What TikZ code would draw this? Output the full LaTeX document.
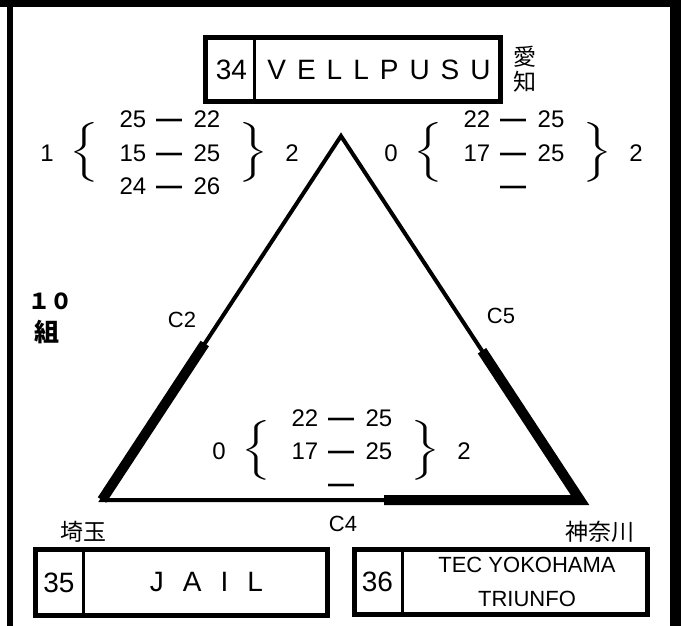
\documentclass[tikz,border=0pt]{standalone}
\usepackage{amsmath}
\usepackage{graphicx}
\usepackage{fontspec}
\setmainfont{Liberation Sans}
\newfontfamily\jpfont{Noto Sans CJK JP}
\usepackage{tikz}
\usetikzlibrary{calc}

\begin{document}
\begin{tikzpicture}[x=1pt, y=-1pt,
    side/.style={line width=4pt},
    won/.style={line width=10pt},
    teambox/.style={draw, line width=5pt, minimum width=#1, minimum height=66, inner sep=0pt},
    divider/.style={line width=3pt},
    num/.style={font=\fontsize{28}{30}\selectfont, inner sep=0pt},
    score/.style={font=\fontsize{24}{26}\selectfont, anchor=base, inner sep=0pt},
    dashmark/.style={font=\fontsize{26}{28}\selectfont\bfseries, anchor=base, inner sep=0pt},
    brc/.style={font=\fontsize{28}{30}\selectfont, inner sep=0pt},
    court/.style={font=\fontsize{22}{24}\selectfont, inner sep=0pt},
    pref/.style={font=\jpfont\fontsize{23}{25}\selectfont, inner sep=0pt, align=center},
    kumi/.style={inner sep=0pt}]

\useasboundingbox (0,0) rectangle (681,626);
\fill (0,0) rectangle (681,7);
\fill (7,0) rectangle (13,626);
\fill (670,0) rectangle (681,626);

\def\tgap{\hspace{11pt}}
\def\jgap{\hspace{19pt}}
\def\scoregroup#1#2#3#4#5#6{
  \node[brc] (#1l) at (#2,#3) {\scalebox{1.6}[1]{$\bigg\{$}};
  \node[brc] (#1r) at (#2+169.5,#3) {\scalebox{1.6}[1]{$\bigg\}$}};
  \node[score] (#1sa) at (#2-37,#3+9) {#4};
  \node[score] (#1sb) at (#2+208,#3+9) {#5};
  \foreach \a/\b [count=\r] in {#6} {
    \node[score] (#1a\r) at (#2+49,#3-57+33*\r) {\a};
    \node[dashmark] (#1d\r) at (#2+85,#3-57+33*\r) {—};
    \node[score] (#1b\r) at (#2+123,#3-57+33*\r) {\b};
  }
}

\coordinate (apex) at (341,136);
\coordinate (sai) at (102,500);
\coordinate (kan) at (580,500);
\draw[side] (apex) -- (sai) -- (kan) -- cycle;
\draw[won] (sai) -- ($(sai)!0.43!(apex)$);
\draw[won] ($(kan)!0.41!(apex)$) -- (kan) -- ($(kan)!0.41!(sai)$);

\node[court] (c2) at (182,320) {C2};
\node[court] (c5) at (501,316) {C5};
\node[court] (c4) at (343,524) {C4};

\scoregroup{g1}{84}{152}{1}{2}{25/22,15/25,24/26}
\scoregroup{g2}{428}{152}{0}{2}{22/25,17/25,/}
\scoregroup{g3}{256}{450}{0}{2}{22/25,17/25,/}

\node[teambox=295, minimum height=64] (t34) at (353,69.5) {};
\draw[divider] ([xshift=51.5]t34.north west) -- ([xshift=51.5]t34.south west);
\node[num] (n34) at (231.5,69.5) {34};
\node[num] (v34) at (379,69.5) {V\tgap E\tgap L\tgap L\tgap P\tgap U\tgap S\tgap U};
\node[pref] (aichi) at (525,69.5) {愛\\知};

\node[teambox=292] (t35) at (181.5,582.5) {};
\draw[divider] ([xshift=50]t35.north west) -- ([xshift=50]t35.south west);
\node[num] (n35) at (59,582.5) {35};
\node[num] (v35) at (206.5,582.5) {J\jgap A\jgap I\jgap L};
\node[pref] (saitama) at (83,532) {埼玉};

\node[teambox=293, minimum height=65] (t36) at (501,582) {};
\draw[divider] ([xshift=50.5]t36.north west) -- ([xshift=50.5]t36.south west);
\node[num] (n36) at (377.5,582) {36};
\node[font=\fontsize{22}{34}\selectfont, align=center, inner sep=0pt] (v36) at (527,582) {TEC YOKOHAMA\\TRIUNFO};
\node[pref] (kanagawa) at (600,532) {神奈川};

\node[kumi, font=\jpfont\bfseries\fontsize{22}{24}\selectfont] (n10) at (50,301) {１０};
\node[kumi, font=\jpfont\bfseries\fontsize{25}{27}\selectfont] (kumi) at (47,332) {組};

\end{tikzpicture}
\end{document}
